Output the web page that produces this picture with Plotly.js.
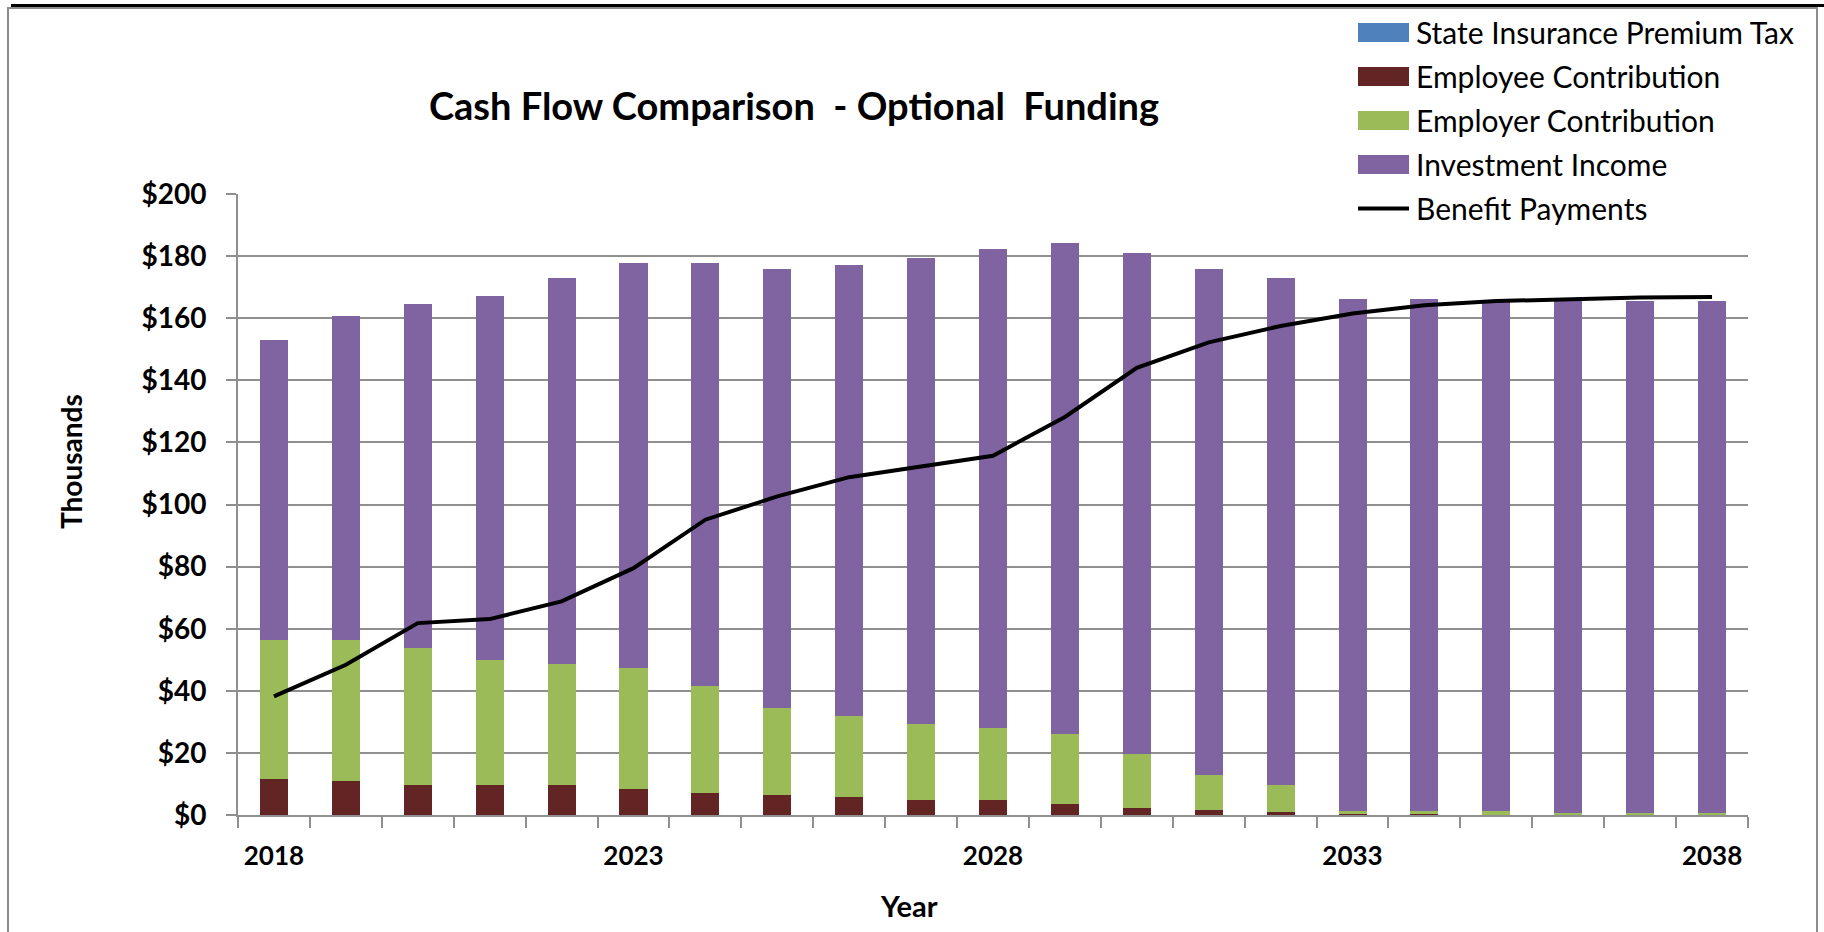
<!DOCTYPE html>
<html>
<head>
<meta charset="utf-8">
<script src="https://cdn.plot.ly/plotly-3.0.1.min.js"></script>
<style>
  html, body { margin: 0; padding: 0; background: #fff; }
  #wrap { position: relative; width: 1824px; height: 932px; overflow: hidden; }
  #chart { width: 1824px; height: 932px; }
  #topbar { position: absolute; left: 11px; top: 4px; right: 0; height: 3px; background: #000; pointer-events: none; }
  #frame { position: absolute; left: 7px; top: 7px; width: 1807px; height: 940px; border: 2px solid #8c8c8c; pointer-events: none; }
</style>
</head>
<body>
<div id="wrap">
  <div id="chart"></div>
  <div id="topbar"></div>
  <div id="frame"></div>
</div>
<script>
// ---- Data (values in thousands of dollars) ----
const years = [2018, 2019, 2020, 2021, 2022, 2023, 2024, 2025, 2026, 2027, 2028,
               2029, 2030, 2031, 2032, 2033, 2034, 2035, 2036, 2037, 2038];
const stateInsurancePremiumTax = [0, 0, 0, 0, 0, 0, 0, 0, 0, 0, 0,
                                  0, 0, 0, 0, 0, 0, 0, 0, 0, 0];
const employeeContribution = [11.7, 11.0, 9.8, 9.7, 9.7, 8.3, 7.0, 6.3, 5.7, 4.8, 4.8,
                              3.7, 2.4, 1.7, 1.1, 0.4, 0.4, 0, 0, 0, 0];
const employerContribution = [44.7, 45.4, 44.0, 40.3, 39.0, 39.1, 34.6, 28.2, 26.2, 24.5, 23.3,
                              22.4, 17.2, 11.2, 8.6, 0.8, 0.8, 1.3, 0.6, 0.6, 0.6];
const investmentIncome = [96.7, 104.4, 110.9, 117.3, 124.4, 130.3, 136.1, 141.2, 145.1, 150.2, 154.1,
                          158.0, 161.4, 162.8, 163.4, 164.9, 164.9, 164.1, 164.8, 164.8, 164.8];
const benefitPayments = [38.2, 48.4, 61.8, 63.1, 68.8, 79.5, 95.1, 102.6, 108.8, 112.3, 115.7,
                         128.2, 144.0, 152.2, 157.5, 161.5, 164.2, 165.5, 166.1, 166.7, 166.8];
const labeledYears = [2018, 2023, 2028, 2033, 2038];
const yTickVals = [0, 20, 40, 60, 80, 100, 120, 140, 160, 180, 200];
const yTickLabels = ['$0', '$20', '$40', '$60', '$80', '$100', '$120', '$140', '$160', '$180', '$200'];

const FONT = 'Lato, "Open Sans", "DejaVu Sans", sans-serif';
const GRID = '#8f8f8f';
const BAR_W = 0.39;

function barTrace(name, values, color) {
  return {
    type: 'bar', name: name, x: years, y: values,
    width: BAR_W, marker: { color: color, line: { width: 0 } },
    legendgroup: name, hoverinfo: 'x+y+name'
  };
}

const traces = [
  barTrace('State Insurance Premium Tax', stateInsurancePremiumTax, '#4F81BD'),
  barTrace('Employee Contribution', employeeContribution, '#632523'),
  barTrace('Employer Contribution', employerContribution, '#9BBB59'),
  barTrace('Investment Income', investmentIncome, '#8064A2'),
  {
    type: 'scatter', mode: 'lines', name: 'Benefit Payments',
    x: years, y: benefitPayments, legendgroup: 'Benefit Payments',
    line: { color: '#000000', width: 4 }
  }
];

const layout = {
  width: 1824, height: 932,
  margin: { l: 238, r: 76, t: 194, b: 117, pad: 0, autoexpand: false },
  paper_bgcolor: '#ffffff', plot_bgcolor: '#ffffff',
  barmode: 'stack',
  showlegend: true,
  hovermode: 'closest',
  title: {
    text: 'Cash Flow Comparison\u00a0 - Optional\u00a0 Funding',
    font: { family: FONT, size: 38, color: '#000', weight: 'bold' },
    x: 794 / 1824, xanchor: 'center', xref: 'container',
    y: 1 - 107 / 932, yanchor: 'middle', yref: 'container'
  },
  xaxis: {
    type: 'linear', range: [2017.5, 2038.5],
    tickmode: 'array', tickvals: labeledYears,
    ticks: '', ticklabelstandoff: 17,
    tickfont: { family: FONT, size: 26, color: '#000', weight: 'bold' },
    showgrid: false, zeroline: false,
    showline: true, linecolor: GRID, linewidth: 2,
    minor: { tick0: 2017.5, dtick: 1, ticks: 'outside', ticklen: 11, tickwidth: 2, tickcolor: GRID, showgrid: false },
    fixedrange: true
  },
  yaxis: {
    range: [0, 200], tickmode: 'array', tickvals: yTickVals, ticktext: yTickLabels,
    ticks: 'outside', ticklen: 10, tickwidth: 2, tickcolor: GRID,
    ticklabelstandoff: 14,
    tickfont: { family: FONT, size: 28, color: '#000', weight: 'bold' },
    showgrid: true, gridcolor: GRID, gridwidth: 2,
    zeroline: false, showline: true, linecolor: GRID, linewidth: 2,
    fixedrange: true
  },
  legend: {
    x: (1340 - 238) / 1510, xanchor: 'left',
    y: (815 - 6.5) / 621, yanchor: 'top',
    bgcolor: '#ffffff', borderwidth: 0,
    traceorder: 'grouped', tracegroupgap: 2,
    itemwidth: 66,
    font: { family: FONT, size: 30, color: '#000' }
  },
  annotations: [
    {
      text: 'Thousands', textangle: -90, showarrow: false,
      xref: 'paper', yref: 'paper',
      x: (71 - 238) / 1510, y: (815 - 462) / 621,
      xanchor: 'center', yanchor: 'middle',
      font: { family: FONT, size: 28, color: '#000', weight: 'bold' }
    },
    {
      text: 'Year', showarrow: false,
      xref: 'paper', yref: 'paper',
      x: (909 - 238) / 1510, y: (815 - 905) / 621,
      xanchor: 'center', yanchor: 'middle',
      font: { family: FONT, size: 29, color: '#000', weight: 'bold' }
    }
  ]
};

// Widen the legend keys to the wide Excel-style swatches
function widenLegendKeys(gd) {
  gd.querySelectorAll('g.legend g.traces').forEach(function (tr) {
    const txt = tr.querySelector('text.legendtext');
    if (!txt) return;
    const tb = txt.getBoundingClientRect();
    const left = tb.left - 58, right = tb.left - 7;
    tr.querySelectorAll('g.legendpoints path').forEach(function (p) {
      const bb = p.getBBox(), sb = p.getBoundingClientRect();
      const ox = sb.left - bb.x;
      const cy = bb.y + bb.height / 2;
      const l = left - ox, r = right - ox;
      p.setAttribute('d', 'M' + l + ',' + (cy - 9.5) + 'H' + r + 'V' + (cy + 9.5) + 'H' + l + 'Z');
      p.style.strokeWidth = '0px';
    });
    tr.querySelectorAll('path.js-line').forEach(function (p) {
      const bb = p.getBBox(), sb = p.getBoundingClientRect();
      const ox = sb.left - bb.x;
      const y = bb.y + bb.height / 2;
      p.setAttribute('d', 'M' + (left - ox) + ',' + y + 'H' + (right - ox));
    });
  });
}

Plotly.newPlot('chart', traces, layout, { displayModeBar: false, responsive: false })
  .then(function (gd) { widenLegendKeys(gd); });
</script>
</body>
</html>
